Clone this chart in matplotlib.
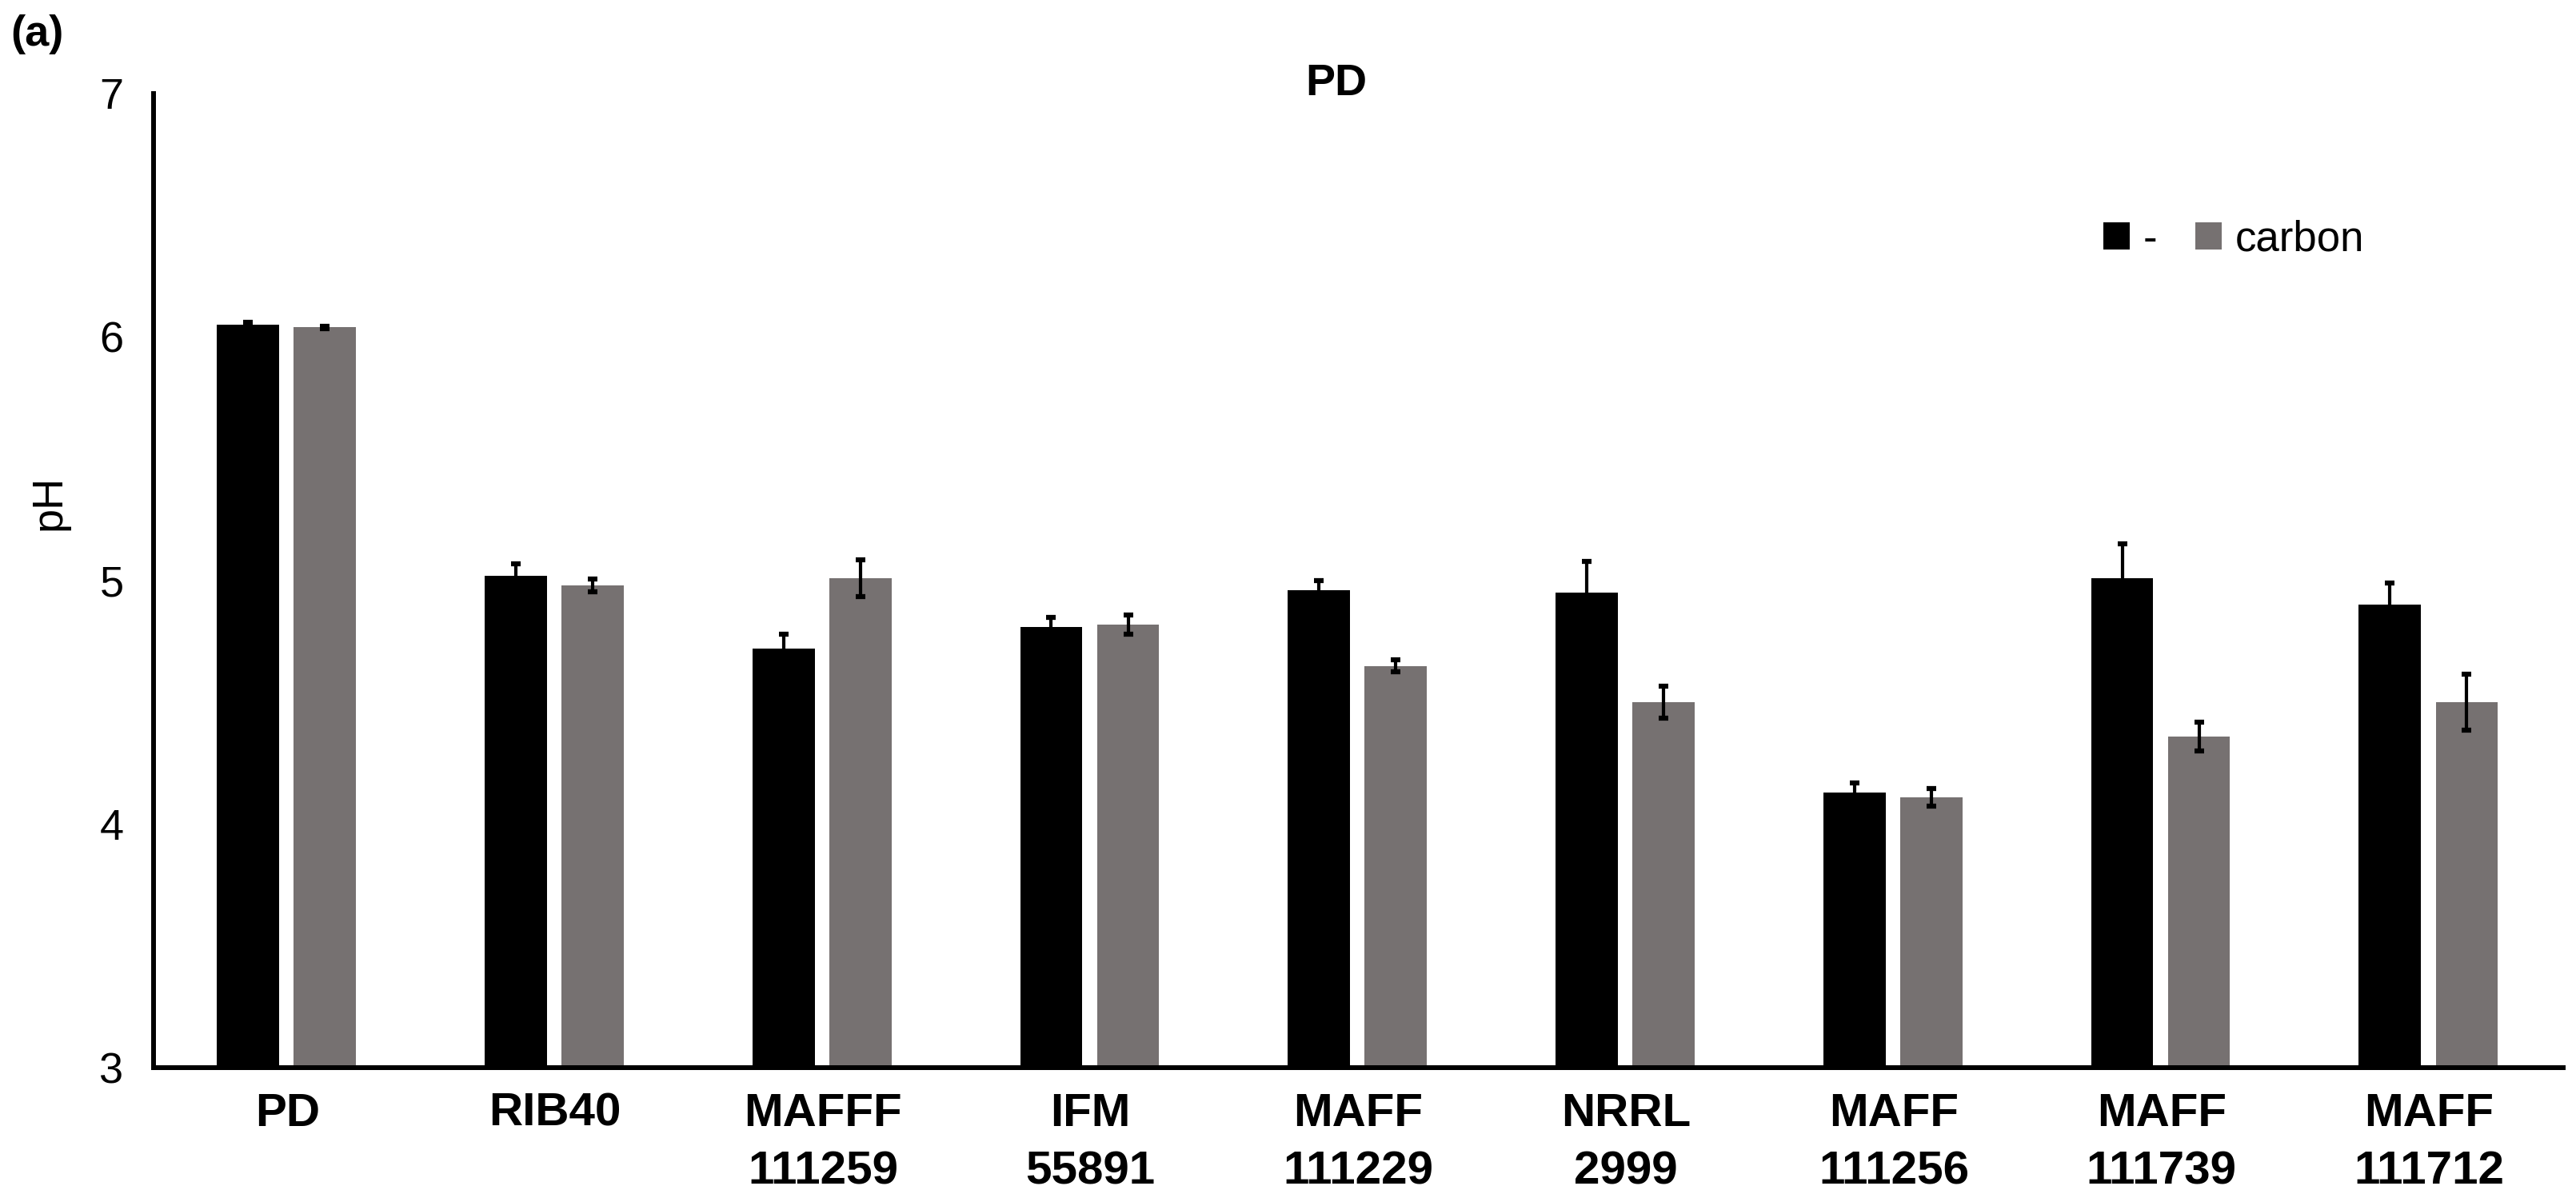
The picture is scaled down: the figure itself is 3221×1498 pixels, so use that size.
"""pH of PD medium cultures, with and without carbon."""

import numpy as np
import matplotlib
matplotlib.use("Agg")
import matplotlib.pyplot as plt

plt.rcParams["font.family"] = ["Liberation Sans", "DejaVu Sans"]

strains = ["PD", "RIB40", "MAFFF\n111259", "IFM\n55891", "MAFF\n111229",
           "NRRL\n2999", "MAFF\n111256", "MAFF\n111739", "MAFF\n111712"]
ph_minus = [6.05, 5.02, 4.72, 4.81, 4.96, 4.95, 4.13, 5.01, 4.90]
err_minus = [0.01, 0.05, 0.06, 0.04, 0.04, 0.13, 0.04, 0.14, 0.09]
ph_carbon = [6.04, 4.98, 5.01, 4.82, 4.65, 4.50, 4.11, 4.36, 4.50]
err_carbon = [0.005, 0.025, 0.075, 0.04, 0.025, 0.065, 0.035, 0.06, 0.115]
series_labels = ["-", "carbon"]

BLACK = "#000000"
GRAY = "#767171"

fig = plt.figure(figsize=(32.21, 14.98), dpi=100)
ax = fig.add_axes([0.0596, 0.1088, 0.9354, 0.8131])

x = np.arange(len(strains))
w = 0.232
err_kw = dict(ecolor="black", elinewidth=3, capsize=4.5, capthick=4.5, zorder=3)
ax.bar(x - 0.147, ph_minus, w, color=BLACK, yerr=err_minus,
       error_kw=err_kw, label=series_labels[0], zorder=2)
ax.bar(x + 0.14, ph_carbon, w, color=GRAY, yerr=err_carbon,
       error_kw=err_kw, label=series_labels[1], zorder=2)

ax.set_xlim(-0.5, 8.5)
ax.set_ylim(3, 7)
ax.set_yticks([3, 4, 5, 6, 7])
ax.set_xticks(x)
ax.set_xticklabels(strains, fontsize=42, fontweight="bold", linespacing=1.45)
ax.tick_params(axis="y", length=0, pad=27, labelsize=39)
ax.tick_params(axis="x", length=0, pad=22)

for side in ("top", "right"):
    ax.spines[side].set_visible(False)
for side in ("left", "bottom"):
    ax.spines[side].set_linewidth(4.3)

ax.set_ylabel("pH", fontsize=39)
ax.yaxis.set_label_coords(-0.035, 0.58)

fig.text(0.5188, 0.93, "PD", fontsize=40, fontweight="bold",
         ha="center", va="center")
fig.text(0.004, 0.971, "(a)", fontsize=39, fontweight="bold",
         ha="left", va="center")

fig.legend(loc="center left", bbox_to_anchor=(0.8165, 0.80),
           bbox_transform=fig.transFigure, ncol=2, frameon=False,
           fontsize=38, handlelength=0.625, handleheight=0.625,
           handletextpad=0.32, columnspacing=0.9, borderpad=0,
           borderaxespad=0)

fig.savefig("out.png", dpi=100)
